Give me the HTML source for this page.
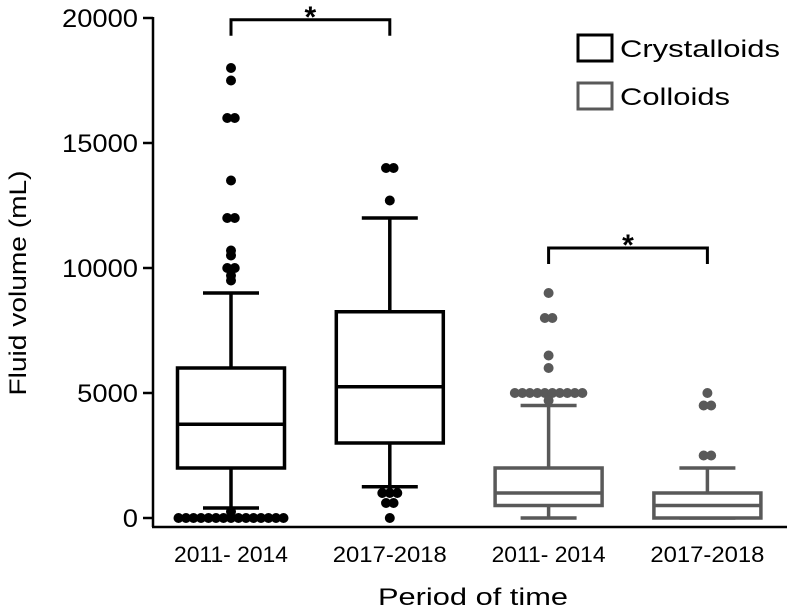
<!DOCTYPE html>
<html><head><meta charset="utf-8"><style>body{margin:0;background:#fff}svg{font-family:"Liberation Sans",sans-serif}</style></head>
<body>
<svg id="c" width="787" height="610">
</svg>
<script>
const categories=["2011- 2014","2017-2018","2011- 2014","2017-2018"];
const groups=["Crystalloids","Crystalloids","Colloids","Colloids"];
const q1=[2000,3000,500,0];
const medians=[3750,5250,1000,500];
const q3=[6000,8250,2000,1000];
const whiskLow=[400,1250,0,0];
const whiskHigh=[9000,12000,4500,2000];
const outliers=[
 [18000,17500,16000,16000,13500,12000,12000,10700,10500,10000,10000,9700,9500,0,0,0,0,0,0,0,0,0,0,0,0,0,0,0,250],
 [14000,14000,12700,1000,1000,1000,600,600,0],
 [9000,8000,8000,6500,6000,5000,5000,5000,5000,5000,5000,5000,5000,5000,5000,4700],
 [5000,4500,4500,2500,2500]];
const yTicks=[0,5000,10000,15000,20000];
const NS="http://www.w3.org/2000/svg",svg=document.getElementById('c');
const y=v=>518-v*0.025, x=i=>231+i*158.8, W=107;
function el(t,a,p){const e=document.createElementNS(NS,t);for(const k in a)e.setAttribute(k,a[k]);(p||svg).appendChild(e);return e;}
const colors={Crystalloids:"#000",Colloids:"#595959"};
let g=el('line',{x1:153,y1:17,x2:153,y2:527,stroke:"#000","stroke-width":2.5});

g=el('line',{x1:152,y1:527,x2:787,y2:527,stroke:"#000","stroke-width":2.5});

yTicks.forEach(v=>{
 let t=el('line',{x1:143,x2:153,y1:y(v),y2:y(v),stroke:"#000","stroke-width":2.5});
 
 let s=String(v);
 let l=el('text',{x:138,y:y(v)+9,"text-anchor":"end","font-size":25,textLength:s.length*15.2,lengthAdjust:"spacingAndGlyphs"});l.textContent=s;
 
});
categories.forEach((c,i)=>{
 const cx=x(i),col=colors[groups[i]];
 const gg=el('g',{stroke:col,"stroke-width":3.5,fill:"none"});
 
 el('line',{x1:cx,x2:cx,y1:y(whiskHigh[i]),y2:y(q3[i])},gg);
 el('line',{x1:cx,x2:cx,y1:y(q1[i]),y2:y(whiskLow[i])},gg);
 el('line',{x1:cx-28,x2:cx+28,y1:y(whiskHigh[i]),y2:y(whiskHigh[i])},gg);
 el('line',{x1:cx-28,x2:cx+28,y1:y(whiskLow[i]),y2:y(whiskLow[i])},gg);
 el('rect',{x:cx-W/2,y:y(q3[i]),width:W,height:y(q1[i])-y(q3[i]),fill:"#fff"},gg);
 el('line',{x1:cx-W/2,x2:cx+W/2,y1:y(medians[i]),y2:y(medians[i])},gg);
 const counts={};
 outliers[i].forEach(v=>{counts[v]=(counts[v]||0)+1;});
 const placed={};
 outliers[i].forEach(v=>{const n=placed[v]||0;placed[v]=n+1;const tot=counts[v];
  const ox=(n-(tot-1)/2)*7.5;
  const d=el('circle',{cx:cx+ox,cy:y(v),r:5,fill:col});
  });
 const lab=el('text',{x:cx,y:562,"text-anchor":"middle","font-size":22,textLength:114,lengthAdjust:"spacingAndGlyphs"});lab.textContent=c;
 
});
function bracket(i,j,v,col){
 const gg=el('g',{stroke:col,"stroke-width":3,fill:"none"});
 
 const yy=y(v);
 el('polyline',{points:`${x(i)},${yy+16} ${x(i)},${yy} ${x(j)},${yy} ${x(j)},${yy+16}`},gg);
 const s=el('text',{x:(x(i)+x(j))/2,y:yy+7,"text-anchor":"middle","font-size":30,"font-weight":"bold",fill:"#000"});s.textContent="*";
 
}
bracket(0,1,19930,"#000");bracket(2,3,10800,"#000");
[["Crystalloids",35,160],["Colloids",83,110]].forEach(([n,yy,tl])=>{
 const r=el('rect',{x:578,y:yy,width:34,height:26,fill:"#fff",stroke:colors[n],"stroke-width":3});
 
 const t=el('text',{x:620,y:yy+22,"font-size":24,textLength:tl,lengthAdjust:"spacingAndGlyphs"});t.textContent=n;
 
});
let t=el('text',{x:378,y:605,"font-size":24,textLength:190,lengthAdjust:"spacingAndGlyphs"});t.textContent="Period of time";

t=el('text',{x:0,y:0,"text-anchor":"middle","font-size":24,textLength:225,lengthAdjust:"spacingAndGlyphs",transform:"translate(26,283) rotate(-90)"});t.textContent="Fluid volume (mL)";

</script>
</body></html>
